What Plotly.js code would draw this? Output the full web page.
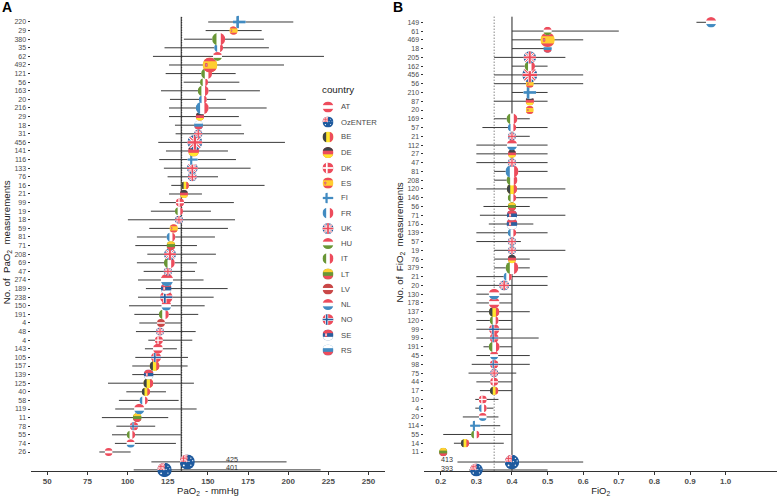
<!DOCTYPE html>
<html><head><meta charset="utf-8">
<script src="https://cdn.plot.ly/plotly-3.0.1.min.js"></script>
<style>html,body{margin:0;padding:0;background:#fff}#g{width:778px;height:497px}</style>
</head><body><div id="g"></div>
<script>
// ---------- Panel A data ----------
const labelsA=["220","29","380","35","62","492","121","56","163","20","216","29","18","31","456","141","116","133","76","16","21","99","19","18","59","81","71","208","69","47","274","189","238","150","191","4","48","4","143","105","157","139","125","40","58","119","11","78","55","74","26","425","401"];
const countryA=["FI","ES","IT","FR","HU","ES","IT","IT","IT","FR","FR","DE","RS","UK","UK","DE","FI","UK","UK","BE","DE","DK","IT","UK","ES","FR","LT","UK","IT","UK","NL","SE","NO","NL","IT","LV","UK","DK","AT","NO","BE","SE","BE","BE","FR","NL","LT","NO","IT","NL","AT","OZ","OZ"];
const medianA=[169.6,166,156.7,156.7,156,151.3,149.2,147.6,147.1,146.9,146.5,145,144.2,144,141.9,141.1,140.5,140.3,140.3,135.7,135.1,132.6,132,132,128.7,127,127,126.4,126,125.1,124.5,124,124.1,124.1,122.6,120.8,120.2,119.5,118.9,117.7,116.8,113.1,112.9,111.4,110,107.3,106,104,102.1,101.9,88.2,137.2,123];
const lowA=[150.2,148.6,135.1,123,115.8,125.8,123.7,134.9,120.8,126.4,125.8,125.8,129.5,129.9,119.1,123.9,119.7,122.6,124.9,127.2,125.8,119.9,114.5,100.2,113.5,105.8,104.8,112.3,105.8,110,106.5,111.4,106.5,100.9,104.2,107.3,105.2,112.9,110.8,104.8,102.9,102.9,87.8,99.2,94.6,92.3,84,93,90.3,92.1,82.4,114.8,103.8];
const highA=[203.2,183.5,184.9,188,222.3,197.4,167.3,169.6,182.4,161.2,186.6,169.3,170.8,172.5,198,162.5,167.5,176.6,156.3,185.3,146.3,166.2,151.9,166.9,162.5,154.4,143.2,155,143.2,142,147.3,162.3,153.6,148,144,133.2,142.4,140.3,130.7,137.6,137.4,133.2,141.3,123.9,131.8,143,125.3,117.2,133.2,130.1,101.9,199,220.2];
const diameterA=[13,8.5,13,9,9,15,11,8,11,8,13,8.5,9,8.5,15,11,10.5,11,9,8,8,8.5,8,8,8.5,9,9,12,11,8.5,12.5,11,12.5,10,10,8,8,8,10,10,10,10,10,8.5,8.5,10.5,9,8.5,8.5,8.5,8,15,14.5];
const ozRowsA=[1.85,0.92];
const refA=133.4;
// ---------- Panel B data ----------
const labelsB=["149","61","469","18","205","162","456","56","210","87","20","169","57","21","112","27","47","81","208","120","146","56","71","176","139","57","19","76","379","21","20","130","178","137","120","99","99","191","45","98","75","44","17","10","4","20","114","55","14","11","413","393"];
const countryB=["NL","HU","ES","RS","UK","IT","UK","ES","FI","DE","ES","IT","FR","UK","NL","DE","UK","FR","IT","BE","IT","LT","SE","SE","FR","UK","UK","DE","IT","FR","UK","NL","AT","BE","IT","NO","NO","IT","NL","NO","UK","DK","BE","DK","FR","NL","FI","IT","BE","LT","OZ","OZ"];
const medianB=[0.959,0.5,0.5,0.5,0.45,0.45,0.45,0.45,0.45,0.45,0.45,0.4,0.4,0.4,0.4,0.4,0.4,0.4,0.4,0.4,0.4,0.4,0.4,0.4,0.4,0.4,0.4,0.4,0.4,0.388,0.378,0.35,0.35,0.35,0.35,0.35,0.35,0.35,0.35,0.35,0.35,0.35,0.35,0.318,0.318,0.318,0.297,0.297,0.268,0.207,0.4,0.3];
const lowB=[0.918,0.4,0.4,0.4,0.35,0.4,0.35,0.35,0.4,0.35,0.45,0.35,0.317,0.39,0.3,0.3,0.3,0.35,0.35,0.3,0.4,0.32,0.31,0.335,0.3,0.3,0.35,0.35,0.35,0.3,0.3,0.3,0.3,0.3,0.3,0.3,0.3,0.32,0.3,0.287,0.278,0.3,0.31,0.297,0.297,0.262,0.297,0.207,0.237,0.207,0.247,0.28];
const highB=[0.96,0.7,0.6,0.5,0.55,0.5,0.6,0.6,0.5,0.5,0.45,0.45,0.5,0.45,0.5,0.5,0.5,0.5,0.4,0.55,0.5,0.45,0.55,0.46,0.5,0.425,0.55,0.45,0.45,0.5,0.5,0.4,0.4,0.45,0.4,0.4,0.475,0.4,0.45,0.45,0.412,0.4,0.4,0.362,0.348,0.362,0.367,0.4,0.377,0.207,0.6,0.5];
const diameterB=[10.5,8.5,14.5,8.5,12.5,10.5,15,8,13,8.5,8,11,8.5,8,10.5,8,8.5,13,11,10.5,8.5,8.5,10.5,11,8.5,8.5,8,8.5,13,8.5,10,11,11,10.5,9,10.5,9,11,8.5,8.5,8,8,8.5,8,8,8,10.5,8.5,8.5,8.5,14.5,13];
const ozRowsB=[1.86,0.95];
const refB=[0.35,0.4];
// ---------- Legend ----------
const legendCodes=["AT","OZ","BE","DE","DK","ES","FI","FR","UK","HU","IT","LT","LV","NL","NO","SE","RS"];
const legendNames=["AT","OzENTER","BE","DE","DK","ES","FI","FR","UK","HU","IT","LT","LV","NL","NO","SE","RS"];
const legendY=[107,122,137,152.5,168,183,198,213,228.5,243.5,258.5,274,289,304.5,319.5,335,350];
const xTicksA=[50,75,100,125,150,175,200,225,250];
const xTicksB=[0.2,0.3,0.4,0.5,0.6,0.7,0.8,0.9,1.0];

// ---------- Flag artwork ----------
const R='#ed4c5c',B='#428bc1',W='#ffffff',Y='#ffe62e',G='#699635',K='#3e4347',N='#2a5f9e',O='#ffce31',M='#c94747';
const hb=(a,b,c,s1=21.33,s2=21.33)=>`<rect width="64" height="64" fill="${b}"/><rect width="64" height="${s1}" fill="${a}"/><rect y="${64-s2}" width="64" height="${s2}" fill="${c}"/>`;
const vb=(a,b,c)=>`<rect width="64" height="64" fill="${b}"/><rect width="21.33" height="64" fill="${a}"/><rect x="42.67" width="21.33" height="64" fill="${c}"/>`;
const jack=`<rect width="64" height="64" fill="${N}"/><path d="M0 0L64 64M64 0L0 64" stroke="${W}" stroke-width="13"/><path d="M0 0L64 64M64 0L0 64" stroke="${R}" stroke-width="5"/><rect x="24" width="16" height="64" fill="${W}"/><rect y="24" width="64" height="16" fill="${W}"/><rect x="27" width="10" height="64" fill="${R}"/><rect y="27" width="64" height="10" fill="${R}"/>`;
const art={
AT:hb(R,W,R),BE:vb(K,Y,R),DE:hb(K,R,Y),
DK:`<rect width="64" height="64" fill="${R}"/><rect x="20" width="10" height="64" fill="${W}"/><rect y="27" width="64" height="10" fill="${W}"/>`,
ES:hb(R,O,R,16,16)+`<rect x="11" y="24" width="11" height="16" rx="3" fill="${R}"/><rect x="14" y="28" width="5" height="8" fill="#b9a"/>`,
FI:`<rect width="64" height="64" fill="${W}"/><rect x="17" width="13" height="64" fill="${B}"/><rect y="25.5" width="64" height="13" fill="${B}"/>`,
FR:vb(B,W,R),UK:jack,HU:hb(R,W,G),IT:vb(G,W,R),LT:hb(O,G,R),LV:hb(M,W,M,26,26),NL:hb(R,W,B),
NO:`<rect width="64" height="64" fill="${R}"/><rect x="16" width="17" height="64" fill="${W}"/><rect y="23.5" width="64" height="17" fill="${W}"/><rect x="20" width="9" height="64" fill="${N}"/><rect y="27.5" width="64" height="9" fill="${N}"/>`,
SE:hb(R,N,W)+`<rect x="14" y="19" width="13" height="24" rx="4" fill="${R}"/><rect x="17" y="24" width="7" height="14" fill="${W}"/>`,
RS:hb(W,B,R),
OZ:`<rect width="64" height="64" fill="#1f5a9e"/><g transform="scale(.5)">${jack.replace(/<rect width="64" height="64"[^>]*>/,'<rect width="64" height="64" fill="'+R+'"/>')}</g><g fill="#fff"><circle cx="47" cy="16" r="2.6"/><circle cx="55" cy="27" r="2.6"/><circle cx="47" cy="46" r="3"/><circle cx="39" cy="30" r="2.6"/><circle cx="17" cy="47" r="4"/></g>`
};
const mainColour={AT:R,BE:O,DE:R,DK:R,ES:O,FI:W,FR:W,UK:R,HU:W,IT:W,LT:G,LV:M,NL:W,NO:R,SE:N,RS:B,OZ:N};
const flag=c=>'data:image/svg+xml;charset=utf-8,'+encodeURIComponent(`<svg xmlns="http://www.w3.org/2000/svg" width="64" height="64" viewBox="0 0 64 64"><defs><clipPath id="c"><circle cx="32" cy="32" r="32"/></clipPath></defs><g clip-path="url(#c)">${art[c]}</g></svg>`);

// ---------- Frame ----------
const W0=778,H0=497,TOP=4.7,AXIS=470.7,CLIPBOT=480;
const domA=[31/W0,385/W0],domB=[424/W0,777.3/W0],domY=[1-CLIPBOT/H0,1-TOP/H0];
const rxA=[39.85,260.3],rxB=[0.153,1.145];
const ryA=[-0.256,55.01],ryB=[-0.19,54.007];
const axisRowA=0.826,axisRowB=0.871,topRowA=53.6,topRowB=52.64;
const rowsOf=(n,oz)=>Array.from({length:n},(_,i)=>i>=n-2?oz[i-(n-2)]:n-i);
const rowsA=rowsOf(labelsA.length,ozRowsA),rowsB=rowsOf(labelsB.length,ozRowsB);
const pxX=(r,d)=>(r[1]-r[0])/((d[1]-d[0])*W0),pxY=r=>(r[1]-r[0])/((domY[1]-domY[0])*H0);

function panel(xs,lo,hi,ys,cs,ds,xa,ya){
  return {type:'scatter',mode:'markers',x:xs,y:ys,xaxis:xa,yaxis:ya,showlegend:false,hoverinfo:'x+y',
    marker:{size:ds.map(d=>d-1),color:cs.map(c=>mainColour[c]),line:{width:0}},
    error_x:{type:'data',symmetric:false,array:hi.map((v,i)=>v-xs[i]),arrayminus:lo.map((v,i)=>xs[i]-v),thickness:1,width:0,color:'#3a3a3a'}};
}
function flagImages(xs,ys,cs,ds,xr,yr,rx,ry,dom){
  const a=[];
  for(let i=xs.length-1;i>=0;i--){
    a.push({source:flag(cs[i]),xref:xr,yref:yr,x:xs[i],y:ys[i],sizex:ds[i]*pxX(rx,dom),sizey:ds[i]*pxY(ry),xanchor:'center',yanchor:'middle',sizing:'stretch',layer:'above'});
  }
  return a;
}
const images=[...flagImages(medianA,rowsA,countryA,diameterA,'x','y',rxA,ryA,domA),
  ...flagImages(medianB,rowsB,countryB,diameterB,'x2','y2',rxB,ryB,domB)];
legendCodes.forEach((c,i)=>images.push({source:flag(c),xref:'paper',yref:'paper',x:328/W0,y:1-legendY[i]/H0,sizex:11/W0,sizey:11/H0,xanchor:'center',yanchor:'middle',sizing:'stretch',layer:'above'}));

const F='"Liberation Sans",Arial,sans-serif';
const para=(x,y,t,s,col)=>({xref:'paper',yref:'paper',x:x/W0,y:1-y/H0,text:t,showarrow:false,xanchor:'left',yanchor:'middle',font:{family:F,size:s,color:col}});
const nLab=(xr,x,y,t)=>({xref:xr,yref:'paper',x,y:1-y/H0,text:t,showarrow:false,xanchor:'center',yanchor:'middle',font:{family:F,size:7.2,color:'#333'}});
const annotations=[
  para(0,7,'<b>A</b>',14,'#000'),para(391,7,'<b>B</b>',14,'#000'),
  para(319.5,90,'country',9.8,'#222'),
  ...legendNames.map((t,i)=>para(338.5,legendY[i],t,7.7,'#4a4a4a')),
  nLab('x',164.8,459,labelsA[51]),nLab('x',164.8,467.3,labelsA[52]),
  nLab('x2',0.217,459.6,labelsB[50]),nLab('x2',0.217,468,labelsB[51])
];
const vline=(xr,yr,x,y0,y1,dash,w)=>({type:'line',xref:xr,yref:yr,x0:x,x1:x,y0,y1,line:{color:'#222',width:w,dash},layer:'below'});
const shapes=[vline('x','y',refA,axisRowA,topRowA,'solid',1),vline('x','y',refA+0.3,axisRowA,topRowA,'1px,1.5px',1),
  vline('x2','y2',refB[0],axisRowB,topRowB,'1px,2px',0.8),vline('x2','y2',refB[1],axisRowB,topRowB,'solid',1)];

const xAxis=(dom,r,tv,title)=>({domain:dom,range:r,anchor:'free',position:1-AXIS/H0,tickmode:'array',tickvals:tv,ticktext:tv.map(v=>r[0]<1?v.toFixed(1):String(v)),
  ticks:'outside',ticklen:3,tickwidth:1,tickcolor:'#333',showline:true,linecolor:'#333',linewidth:1,showgrid:false,zeroline:false,
  tickfont:{family:F,size:8,color:'#4d4d4d',weight:'bold'},title:{text:title,standoff:3,font:{family:F,size:9.5,color:'#222'}},automargin:false});
const yAxis=(r,xa,rows,labels,title)=>({domain:domY,range:r,anchor:xa,tickmode:'array',tickvals:rows.slice(0,-2),ticktext:labels.slice(0,-2),
  ticks:'outside',ticklen:2.5,tickwidth:1,tickcolor:'#333',showline:false,showgrid:false,zeroline:false,
  tickfont:{family:F,size:7,color:'#4d4d4d'},title:{text:title,standoff:2,font:{family:F,size:9.7,color:'#222'}},automargin:false});

const layout={width:W0,height:H0,margin:{l:0,r:0,t:0,b:0},paper_bgcolor:'#fff',plot_bgcolor:'rgba(0,0,0,0)',showlegend:false,
  xaxis:xAxis(domA,rxA,xTicksA,'PaO<sub>2</sub>\u00A0 - mmHg'),
  yaxis:yAxis(ryA,'x',rowsA,labelsA,'No.\u00A0of\u00A0 PaO<sub>2</sub>\u00A0 measurements'),
  xaxis2:xAxis(domB,rxB,xTicksB,'FiO<sub>2</sub>'),
  yaxis2:yAxis(ryB,'x2',rowsB,labelsB,'No.\u00A0of\u00A0 FiO<sub>2</sub>\u00A0 measurements'),
  images,annotations,shapes};
Plotly.newPlot('g',[panel(medianA,lowA,highA,rowsA,countryA,diameterA,'x','y'),panel(medianB,lowB,highB,rowsB,countryB,diameterB,'x2','y2')],layout,{displayModeBar:false,staticPlot:true});
</script></body></html>
